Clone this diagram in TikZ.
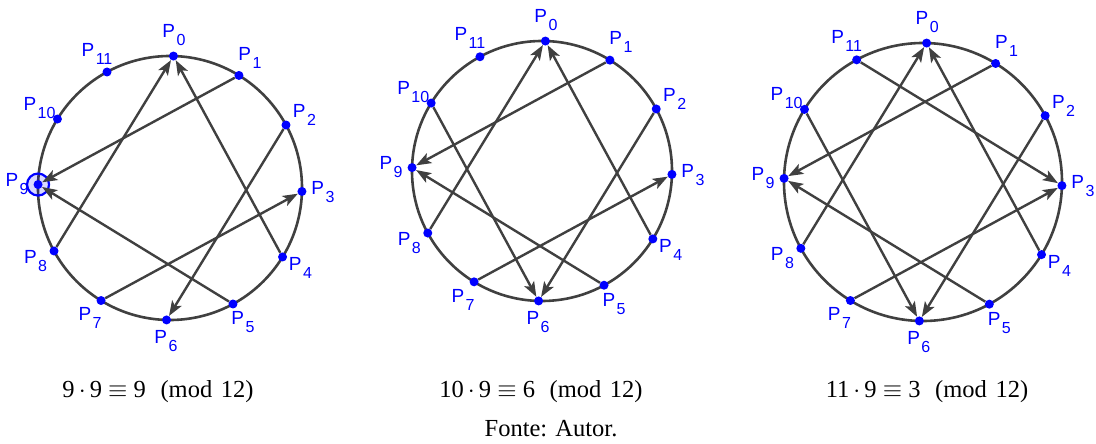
\documentclass[tikz,border=0pt]{standalone}
\usepackage{fontspec}
\setmainfont{Liberation Serif}
\newfontfamily\labfont{Liberation Sans}
\usetikzlibrary{arrows.meta}
\definecolor{ptblue}{RGB}{0,0,255}
\definecolor{lin}{RGB}{64,64,64}
\tikzset{
  dot/.style={circle,fill=ptblue,inner sep=0pt,minimum size=9pt},
  rim/.style={draw=lin,line width=2.6pt},
  arr/.style={draw=lin,line width=2.4pt,-{Stealth[length=15pt,width=11pt,inset=3.5pt]}},
  lab/.style={text=ptblue,font=\labfont\fontsize{19}{19}\selectfont,inner sep=0pt},
  ring/.style={circle,draw=ptblue,line width=2.2pt,fill=ptblue,fill opacity=0.15,draw opacity=1,inner sep=0pt,minimum size=22pt},
  captext/.style={font=\fontsize{24.5}{28}\selectfont,inner sep=0pt,anchor=base}
}
\newcommand{\plab}[1]{P\hspace{1.5pt}\raisebox{-8pt}{\fontsize{16}{16}\selectfont #1}}
\newcommand{\modcap}[3]{#1\,$\cdot$\,#2\hspace{0.25em}$\equiv$\hspace{0.25em}#3\hspace{0.6em}(mod\hspace{0.35em}12)}
\begin{document}
\begin{tikzpicture}[x=1pt,y=1pt]
\useasboundingbox (0,0) rectangle (1096,444);
\foreach \n/\cx/\cy/\r in {a/170/256/132, b/542/273/130, c/923/262/139}{
  \coordinate (c\n) at (\cx,\cy);
  \draw[rim] (c\n) circle (\r);
  \foreach \k in {0,...,11}{
    \pgfmathsetmacro\ang{90-30*\k-1.5}
    \node[dot] (\n\k) at ([shift={(c\n)}] \ang:\r) {};
    \node[lab] (l\n\k) at ([shift={(c\n)}] \ang:\r+21) {\plab{\k}};
  }
}
\node[ring] (hl) at (a9) {};
\foreach \s/\t in {1/9,2/6,4/0,5/9,7/3,8/0}
  \draw[arr] (a\s) -- (a\t);
\foreach \s/\t in {1/9,2/6,4/0,5/9,7/3,8/0,10/6}
  \draw[arr] (b\s) -- (b\t);
\foreach \s/\t in {1/9,2/6,4/0,5/9,7/3,8/0,10/6,11/3}
  \draw[arr] (c\s) -- (c\t);
\node[captext] (capa) at (158,46) {\modcap{9}{9}{9}};
\node[captext] (capb) at (541,46) {\modcap{10}{9}{6}};
\node[captext] (capc) at (927,46) {\modcap{11}{9}{3}};
\node[captext] (fonte) at (551,7) {Fonte: Autor.};
\end{tikzpicture}
\end{document}
